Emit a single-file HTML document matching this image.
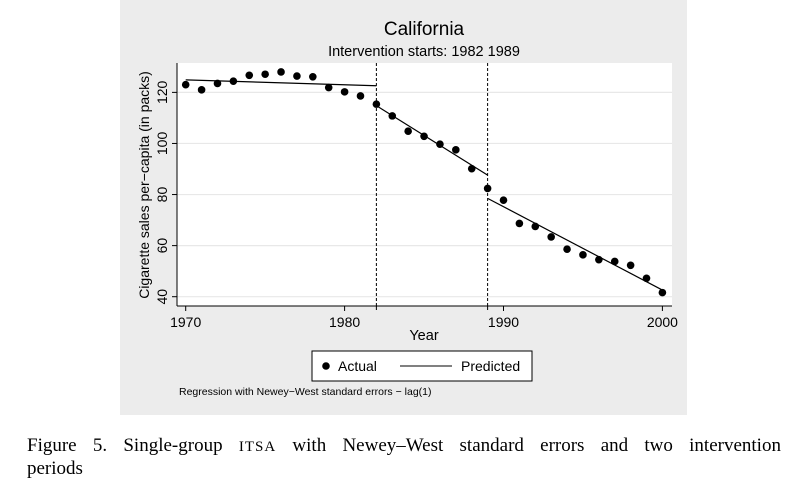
<!DOCTYPE html>
<html><head><meta charset="utf-8"><style>
html,body{margin:0;padding:0;background:#fff;width:798px;height:484px;overflow:hidden}
svg{display:block}
</style></head><body>
<svg id="chart" width="798" height="484" xmlns="http://www.w3.org/2000/svg">
<rect x="120" y="0" width="567" height="415" fill="#ececec"/>
<rect x="177" y="63" width="495" height="243" fill="#fff"/>
<text x="424" y="35" font-family="Liberation Sans, sans-serif" font-size="19" text-anchor="middle">California</text>
<text x="424" y="56" font-family="Liberation Sans, sans-serif" font-size="14.5" text-anchor="middle">Intervention starts: 1982 1989</text>
<g id="grid"></g>
<g id="axes"></g>
<g id="marks"></g>
<text transform="translate(149,185) rotate(-90)" font-family="Liberation Sans, sans-serif" font-size="14" text-anchor="middle">Cigarette sales per−capita (in packs)</text>
<text x="424" y="340" font-family="Liberation Sans, sans-serif" font-size="14.5" text-anchor="middle">Year</text>
<g>
<rect x="312" y="351" width="220" height="30" fill="#fff" stroke="#000" stroke-width="1"/>
<circle cx="326" cy="366" r="3.8" fill="#000"/>
<text x="338" y="371" font-family="Liberation Sans, sans-serif" font-size="14">Actual</text>
<line x1="400" y1="366" x2="452" y2="366" stroke="#000" stroke-width="1"/>
<text x="461" y="371" font-family="Liberation Sans, sans-serif" font-size="14">Predicted</text>
</g>
<text x="179" y="395" font-family="Liberation Sans, sans-serif" font-size="10.5">Regression with Newey−West standard errors − lag(1)</text>
<text x="27" y="451" font-family="Liberation Serif, serif" font-size="19" word-spacing="11.5">Figure 5. Single-group <tspan font-size="15" letter-spacing="1">ITSA</tspan> with Newey–West standard errors and two intervention</text>
<text x="27" y="474" font-family="Liberation Serif, serif" font-size="19">periods</text>
</svg>
<script>
const years = [1970,1971,1972,1973,1974,1975,1976,1977,1978,1979,1980,1981,1982,1983,1984,1985,1986,1987,1988,1989,1990,1991,1992,1993,1994,1995,1996,1997,1998,1999,2000];
const actual = [123,121,123.5,124.4,126.7,127.1,128,126.4,126.1,121.9,120.2,118.6,115.4,110.8,104.8,102.8,99.7,97.5,90.1,82.4,77.8,68.7,67.5,63.4,58.6,56.4,54.5,53.8,52.3,47.2,41.6];
const segStartYear = [1970,1982,1989];
const segEndYear = [1982,1989,2000];
const segStartVal = [124.9,114.8,78.5];
const segEndVal = [122.6,87.6,42.6];
const interventions = [1982,1989];
const xTicks = [1970,1980,1990,2000];
const yTicks = [40,60,80,100,120];

const NS="http://www.w3.org/2000/svg";
const X = y => 185.7 + (y-1970)*15.89;
const Y = v => 296.7 - (v-40)*2.554;
function mk(tag, attrs, parent){const e=document.createElementNS(NS,tag);for(const k in attrs)e.setAttribute(k,attrs[k]);document.getElementById(parent).appendChild(e);return e;}
const F="Liberation Sans, sans-serif";
yTicks.forEach(t=>{
  const g=mk('line',{x1:177,x2:672,y1:Y(t),y2:Y(t),stroke:'#e8e8e8','stroke-width':1.2},'grid');
  
  
  const tk=mk('line',{x1:172,x2:177,y1:Y(t),y2:Y(t),stroke:'#000'},'axes');
  
  
  const tx=mk('text',{x:0,y:0,transform:`translate(167,${Y(t)}) rotate(-90)`,'font-family':F,'font-size':14,'text-anchor':'middle'},'axes');
  tx.textContent=t;
  
  
});
xTicks.forEach(t=>{
  const tk=mk('line',{x1:X(t),x2:X(t),y1:306,y2:311,stroke:'#000'},'axes');
  
  
  const tx=mk('text',{x:X(t),y:327,'font-family':F,'font-size':14,'text-anchor':'middle'},'axes');
  tx.textContent=t;
  
  
});
const ax1=mk('line',{x1:177,x2:177,y1:63,y2:306,stroke:'#000'},'axes');


const ax2=mk('line',{x1:177,x2:672,y1:306,y2:306,stroke:'#000'},'axes');


interventions.forEach(t=>{
  const l=mk('line',{x1:X(t),x2:X(t),y1:63,y2:306,stroke:'#000','stroke-dasharray':'3,2'},'marks');
  
  
  const tk=mk('line',{x1:X(t),x2:X(t),y1:306,y2:310,stroke:'#000'},'axes');
  
  
});
segStartYear.forEach((s,i)=>{
  const l=mk('line',{x1:X(s),y1:Y(segStartVal[i]),x2:X(segEndYear[i]),y2:Y(segEndVal[i]),stroke:'#000','stroke-width':1.2},'marks');
  
  
});
years.forEach((yr,i)=>{
  const c=mk('circle',{cx:X(yr),cy:Y(actual[i]),r:3.8,fill:'#000'},'marks');
  
  
});
</script>
</body></html>
